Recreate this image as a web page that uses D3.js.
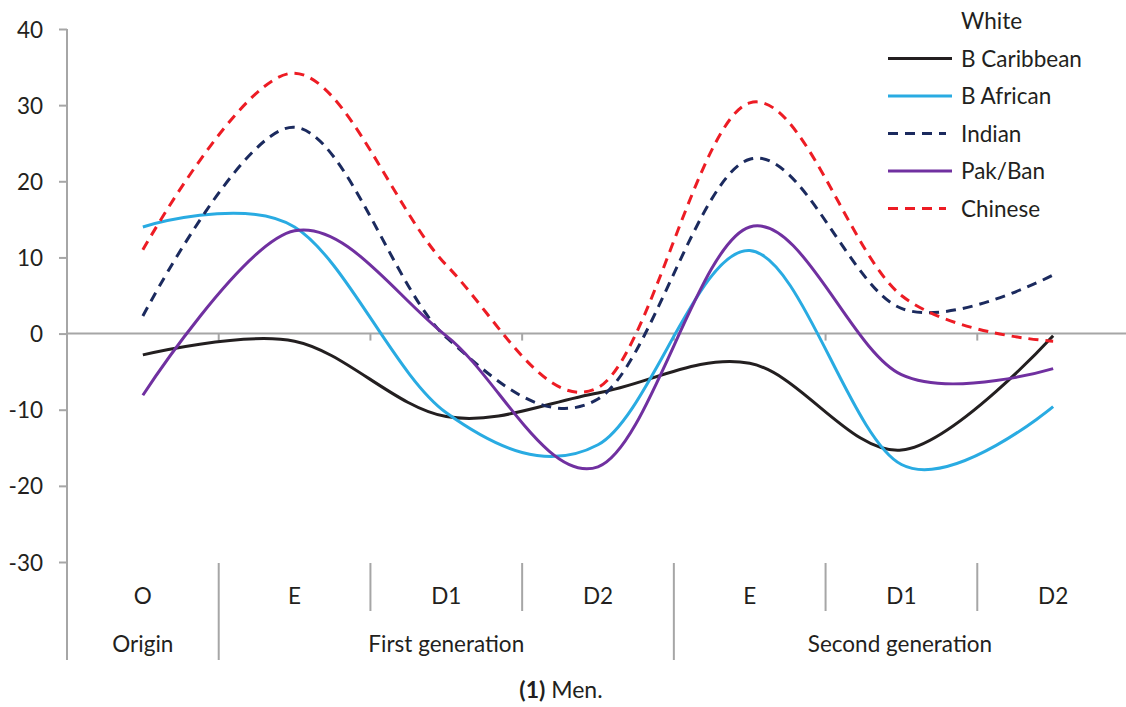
<!DOCTYPE html>
<html>
<head>
<meta charset="utf-8">
<script src="https://cdn.jsdelivr.net/npm/d3@7"></script>
<style>
  html, body { margin: 0; padding: 0; background: #fff; }
  svg text { font-family: Lato, "Noto Sans", sans-serif; fill: #231f20; }
</style>
</head>
<body>
<div id="chart"></div>
<script>
// kategori sumbu-x (dua tingkat)
const categories = ["O", "E", "D1", "D2", "E", "D1", "D2"];
const groups = [
  { name: "Origin", from: 0, to: 1 },
  { name: "First generation", from: 1, to: 4 },
  { name: "Second generation", from: 4, to: 7 }
];
const yTicks = [-30, -20, -10, 0, 10, 20, 30, 40];

// nilai tiap seri
const white      = [0, 0, 0, 0, 0, 0, 0];
const bCaribbean = [-2.8, -1.0, -10.9, -7.8, -3.9, -15.3, -0.3];
const bAfrican   = [14.0, 14.0, -10.4, -14.6, 10.9, -17.2, -9.6];
const indian     = [2.3, 27.1, -0.5, -8.6, 22.9, 3.3, 7.7];
const pakBan     = [-8.1, 13.5, -0.3, -17.5, 14.0, -5.4, -4.6];
const chinese    = [11.0, 34.2, 9.0, -7.1, 30.3, 5.0, -1.0];

const series = [
  { name: "White",       values: white,      color: "#ffffff", dash: null },
  { name: "B Caribbean", values: bCaribbean, color: "#231f20", dash: null },
  { name: "B African",   values: bAfrican,   color: "#29abe2", dash: null },
  { name: "Indian",      values: indian,     color: "#1b2a5e", dash: "10,7" },
  { name: "Pak/Ban",     values: pakBan,     color: "#7030a0", dash: null },
  { name: "Chinese",     values: chinese,    color: "#ed1c24", dash: "10,7" }
];

const W = 1126, H = 707;
const m = { l: 67, t: 29, r: 1129, b: 562 };
const axisCol = "#a6a6a6";
const fs = "22.5px";

const svg = d3.select("#chart").append("svg").attr("width", W).attr("height", H);

const x = d3.scaleBand().domain(d3.range(categories.length)).range([m.l, m.r]).padding(0);
const y = d3.scaleLinear().domain([-30, 40]).range([m.b, m.t]);
const cx = i => x(i) + x.bandwidth() / 2;

const line = d3.line().x((d, i) => cx(i)).y(d => y(d)).curve(d3.curveCardinal.tension(0));

// seri putih (White) tergambar di bawah sumbu
svg.append("path").datum(white).attr("d", line)
  .attr("fill", "none").attr("stroke", "#ffffff").attr("stroke-width", 3);

// sumbu y
const yAxis = svg.append("g").attr("transform", `translate(${m.l},0)`)
  .call(d3.axisLeft(y).tickValues(yTicks).tickSize(8).tickPadding(16).tickFormat(d => String(d)));
yAxis.select(".domain").remove();
yAxis.selectAll("line").attr("stroke", axisCol).attr("stroke-width", 2);
yAxis.selectAll("text").style("font-size", fs).attr("fill", "#231f20").attr("dy", "0.36em");
svg.append("line").attr("x1", m.l).attr("x2", m.l).attr("y1", m.t).attr("y2", 660)
  .attr("stroke", axisCol).attr("stroke-width", 2);

// garis nol dengan tick kategori
svg.append("line").attr("x1", m.l).attr("x2", W).attr("y1", y(0)).attr("y2", y(0))
  .attr("stroke", axisCol).attr("stroke-width", 2);
d3.range(1, categories.length).forEach(i => {
  svg.append("line").attr("x1", x(i)).attr("x2", x(i)).attr("y1", y(0)).attr("y2", y(0) + 7)
    .attr("stroke", axisCol).attr("stroke-width", 2);
});

// seri berwarna
series.slice(1).forEach(s => {
  svg.append("path").datum(s.values).attr("d", line)
    .attr("fill", "none").attr("stroke", s.color).attr("stroke-width", 3)
    .attr("stroke-dasharray", s.dash);
});

// label kategori tingkat 1
const groupStarts = groups.map(g => g.from);
categories.forEach((c, i) => {
  svg.append("text").attr("x", cx(i)).attr("y", 596).attr("dy", "0.36em")
    .attr("text-anchor", "middle").style("font-size", fs).text(c);
  if (i > 0 && !groupStarts.includes(i)) {
    svg.append("line").attr("x1", x(i)).attr("x2", x(i)).attr("y1", 563).attr("y2", 611)
      .attr("stroke", axisCol).attr("stroke-width", 2);
  }
});

// label grup tingkat 2
groups.forEach(g => {
  const x0 = x(g.from), x1 = g.to < categories.length ? x(g.to) : m.r;
  svg.append("text").attr("x", (x0 + x1) / 2 - (g.to === categories.length ? 1.5 : 0)).attr("y", 644).attr("dy", "0.36em")
    .attr("text-anchor", "middle").style("font-size", fs).text(g.name);
  if (g.from > 0) {
    svg.append("line").attr("x1", x0).attr("x2", x0).attr("y1", 563).attr("y2", 660)
      .attr("stroke", axisCol).attr("stroke-width", 2);
  }
});

// legenda
const leg = svg.append("g");
series.forEach((s, i) => {
  const ly = 21 + i * 37.5;
  if (s.name !== "White") {
    leg.append("line").attr("x1", 888).attr("x2", s.dash ? 946 : 952).attr("y1", ly).attr("y2", ly)
      .attr("stroke", s.color).attr("stroke-width", 3).attr("stroke-dasharray", s.dash);
  }
  leg.append("text").attr("x", 961).attr("y", ly).attr("dy", "0.36em")
    .style("font-size", fs).text(s.name);
});

// keterangan
const cap = svg.append("text").attr("x", 561).attr("y", 690).attr("dy", "0.36em")
  .attr("text-anchor", "middle").style("font-size", "23px");
cap.append("tspan").style("font-weight", 700).text("(1)");
cap.append("tspan").text(" Men.");
</script>
</body>
</html>
